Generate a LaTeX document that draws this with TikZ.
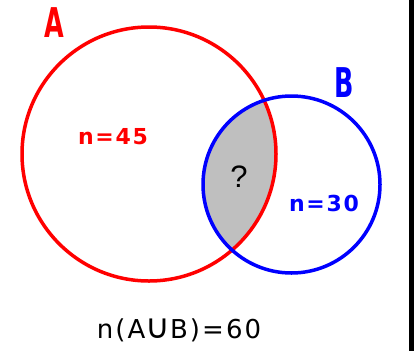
\documentclass[tikz,border=0pt]{standalone}
\usepackage{fontspec}
\setmainfont{DejaVu Sans}
\newfontfamily\vennfont[LetterSpace=8]{DejaVu Sans}
\newfontfamily\qfont{Liberation Sans}
\begin{document}
\begin{tikzpicture}[x=1pt, y=-1pt,
    setA/.style = {draw=red, line width=3.5pt},
    setB/.style = {draw=blue, line width=3.5pt},
    lbl/.style = {inner sep=0pt, anchor=base, font=\vennfont\bfseries\fontsize{22}{22}\selectfont},
    setname/.style = {inner sep=0pt, anchor=base, font=\bfseries\fontsize{41}{41}\selectfont}]
  \useasboundingbox (0,0) rectangle (414,351);
  \fill[white] (0,0) rectangle (414,351);
  \fill[black] (409,0) rectangle (414,351);
  % shaded intersection
  \begin{scope}
    \clip (149,154) circle (127pt);
    \fill[gray!50] (291.5,184.5) circle (88.5pt);
  \end{scope}
  \draw[setA] (149,154) circle (127pt);
  \draw[setB] (291.5,184.5) circle (88.5pt);
  \node[setname, red] (nameA) at (54.5,37) {\scalebox{0.62}[1]{A}};
  \node[setname, blue] (nameB) at (344.5,97) {\scalebox{0.62}[1]{B}};
  \node[lbl, red] (nA) at (113,144) {n=45};
  \node[lbl, blue] (nB) at (324,211) {n=30};
  \node[inner sep=0pt, anchor=base, font=\qfont\fontsize{31}{31}\selectfont] (q) at (239,187) {?};
  \node[lbl, font=\vennfont\fontsize{26}{26}\selectfont] (nAB) at (179,338)
    {n(A\scalebox{1.3}{∪}B)=60};
\end{tikzpicture}
\end{document}
